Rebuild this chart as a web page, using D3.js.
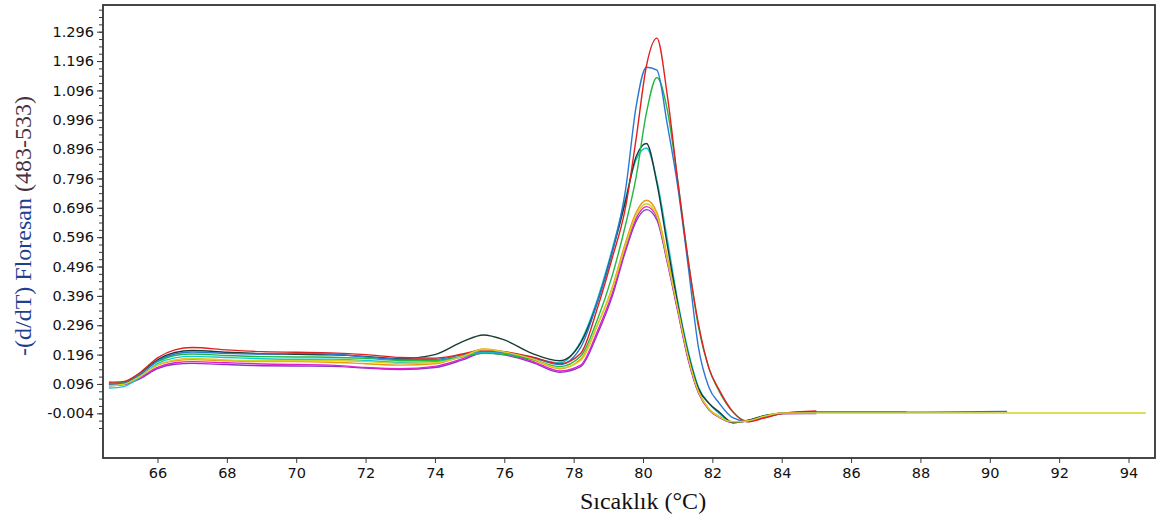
<!DOCTYPE html>
<html>
<head>
<meta charset="utf-8">
<script src="https://cdn.jsdelivr.net/npm/d3@7"></script>
<style>
  body { margin: 0; background: #fff; }
  svg { display: block; }
</style>
</head>
<body>
<script>
// chart data
const temps = [64.6, 65.0, 65.5, 66.0, 66.5, 67.0, 68.0, 69.0, 70.0, 71.0, 72.0, 73.0, 74.0, 74.8, 75.4, 76.0, 76.8, 77.6,
  78.2, 78.7, 79.1, 79.5, 79.8, 80.1, 80.4, 80.7, 81.0, 81.3, 81.6, 81.9, 82.2, 82.6, 83.0, 83.5, 84.0, 85.0, 87.6, 90.5, 94.5];

const purple = [0.090, 0.093, 0.114, 0.148, 0.163, 0.166, 0.162, 0.158, 0.157, 0.156, 0.150, 0.145, 0.152, 0.178, 0.202, 0.195, 0.170, 0.136,
  0.155, 0.27, 0.39, 0.55, 0.65, 0.69, 0.655, 0.51, 0.345, 0.18, 0.065, 0.008, -0.018, -0.036, -0.030, -0.016, -0.006, -0.005, null, null, null];
const magenta = [0.092, 0.095, 0.118, 0.152, 0.168, 0.172, 0.168, 0.164, 0.162, 0.160, 0.152, 0.148, 0.156, 0.182, 0.205, 0.198, 0.174, 0.140,
  0.16, 0.28, 0.40, 0.56, 0.66, 0.70, 0.665, 0.515, 0.35, 0.185, 0.068, 0.010, -0.017, -0.035, -0.030, -0.016, -0.006, null, null, null, null];
const orange = [0.098, 0.100, 0.125, 0.160, 0.175, 0.179, 0.175, 0.172, 0.172, 0.170, 0.165, 0.160, 0.165, 0.192, 0.215, 0.205, 0.180, 0.148,
  0.18, 0.30, 0.42, 0.58, 0.68, 0.722, 0.68, 0.53, 0.36, 0.19, 0.070, 0.010, -0.015, -0.033, -0.030, -0.015, -0.005, null, null, null, null];
const cyan = [0.082, 0.086, 0.120, 0.165, 0.185, 0.190, 0.186, 0.182, 0.180, 0.180, 0.176, 0.170, 0.172, 0.188, 0.204, 0.200, 0.186, 0.168,
  0.24, 0.39, 0.55, 0.73, 0.86, 0.90, 0.79, 0.59, 0.38, 0.21, 0.085, 0.030, -0.005, -0.035, -0.030, -0.012, -0.004, null, null, null, null];
const dark = [0.096, 0.100, 0.132, 0.178, 0.203, 0.210, 0.204, 0.199, 0.197, 0.195, 0.190, 0.182, 0.196, 0.240, 0.263, 0.246, 0.200, 0.175,
  0.235, 0.38, 0.54, 0.72, 0.87, 0.915, 0.78, 0.57, 0.37, 0.20, 0.080, 0.030, 0.000, -0.036, -0.028, -0.012, -0.004, null, null, null, null];
const green = [0.098, 0.100, 0.130, 0.172, 0.193, 0.198, 0.193, 0.189, 0.188, 0.187, 0.183, 0.176, 0.176, 0.190, 0.200, 0.196, 0.180, 0.155,
  0.19, 0.32, 0.46, 0.64, 0.80, 1.02, 1.14, 1.03, 0.79, 0.52, 0.29, 0.15, 0.070, 0.000, -0.030, -0.018, -0.003, 0.001, 0.001, null, null];
const blue = [0.094, 0.097, 0.128, 0.175, 0.198, 0.205, 0.200, 0.198, 0.200, 0.198, 0.188, 0.180, 0.180, 0.196, 0.207, 0.203, 0.186, 0.162,
  0.22, 0.38, 0.54, 0.76, 1.04, 1.175, 1.165, 0.98, 0.77, 0.50, 0.22, 0.085, 0.030, -0.020, -0.032, -0.016, -0.004, 0.000, 0.000, 0.002, null];
const red = [0.102, 0.104, 0.135, 0.185, 0.212, 0.220, 0.212, 0.206, 0.204, 0.202, 0.196, 0.186, 0.184, 0.198, 0.212, 0.206, 0.188, 0.165,
  0.20, 0.36, 0.52, 0.70, 0.93, 1.18, 1.274, 1.08, 0.79, 0.52, 0.30, 0.15, 0.075, 0.000, -0.033, -0.020, -0.005, 0.004, null, null, null];
const yellow = [0.090, 0.094, 0.122, 0.160, 0.178, 0.183, 0.178, 0.175, 0.175, 0.176, 0.172, 0.166, 0.168, 0.190, 0.214, 0.205, 0.182, 0.150,
  0.175, 0.30, 0.415, 0.57, 0.67, 0.71, 0.67, 0.52, 0.355, 0.19, 0.070, 0.012, -0.016, -0.033, -0.030, -0.014, -0.003, -0.003, -0.003, -0.003, -0.003];

const series = [
  {name: 'purple', values: purple, color: '#8a35c8'},
  {name: 'magenta', values: magenta, color: '#e020d0'},
  {name: 'orange', values: orange, color: '#e89a10'},
  {name: 'cyan', values: cyan, color: '#10c8d8'},
  {name: 'dark', values: dark, color: '#1d3b35'},
  {name: 'green', values: green, color: '#20b840'},
  {name: 'blue', values: blue, color: '#2878d0'},
  {name: 'red', values: red, color: '#e02020'},
  {name: 'yellow', values: yellow, color: '#d8d020'}
];

const xTicks = [66, 68, 70, 72, 74, 76, 78, 80, 82, 84, 86, 88, 90, 92, 94];
const yTicks = [-0.004, 0.096, 0.196, 0.296, 0.396, 0.496, 0.596, 0.696, 0.796, 0.896, 0.996, 1.096, 1.196, 1.296];
const yTickLabels = ['-0.004', '0.096', '0.196', '0.296', '0.396', '0.496', '0.596', '0.696', '0.796', '0.896', '0.996', '1.096', '1.196', '1.296'];

// layout
const WIDTH = 1161;
const HEIGHT = 522;
const FRAME = {left: 103, top: 5, right: 1155, bottom: 458};

const svg = d3.select('body')
  .append('svg')
  .attr('width', WIDTH)
  .attr('height', HEIGHT);

const xScale = d3.scaleLinear().domain([66, 94]).range([157.5, 1128.5]);
const yScale = d3.scaleLinear().domain([-0.004, 1.296]).range([413.3, 31.7]);

svg.append('clipPath').attr('id', 'plot-clip')
  .append('rect')
  .attr('x', FRAME.left).attr('y', FRAME.top)
  .attr('width', FRAME.right - FRAME.left).attr('height', FRAME.bottom - FRAME.top);

// curves
const line = d3.line()
  .defined(d => d.v !== null)
  .x(d => xScale(d.t))
  .y(d => yScale(d.v))
  .curve(d3.curveMonotoneX);

const curves = svg.append('g').attr('clip-path', 'url(#plot-clip)');
curves.selectAll('path')
  .data(series)
  .enter().append('path')
  .attr('fill', 'none')
  .attr('stroke', d => d.color)
  .attr('stroke-width', 1.4)
  .attr('d', d => line(temps.map((t, i) => ({t: t, v: d.values[i]}))));

// frame
svg.append('rect')
  .attr('x', FRAME.left).attr('y', FRAME.top)
  .attr('width', FRAME.right - FRAME.left).attr('height', FRAME.bottom - FRAME.top)
  .attr('fill', 'none')
  .attr('stroke', '#333')
  .attr('stroke-width', 1.8);

// y axis: minor ticks every 0.025, labelled ticks every 0.1
const minorTicks = d3.range(-0.054, 1.38, 0.025);
const yMinor = d3.axisLeft(yScale).tickValues(minorTicks).tickSize(4).tickFormat('');
svg.append('g')
  .attr('class', 'y-minor')
  .attr('transform', 'translate(' + FRAME.left + ',0)')
  .call(yMinor);

const yAxis = d3.axisLeft(yScale)
  .tickValues(yTicks)
  .tickSize(6)
  .tickPadding(3)
  .tickFormat((d, i) => yTickLabels[i]);
svg.append('g')
  .attr('class', 'y-axis')
  .attr('transform', 'translate(' + FRAME.left + ',0)')
  .call(yAxis);

const xAxis = d3.axisBottom(xScale)
  .tickValues(xTicks)
  .tickSize(5)
  .tickPadding(5)
  .tickFormat(d3.format('d'));
svg.append('g')
  .attr('class', 'x-axis')
  .attr('transform', 'translate(0,' + FRAME.bottom + ')')
  .call(xAxis);

svg.selectAll('.domain').remove();
svg.selectAll('.y-axis line, .y-minor line, .x-axis line')
  .attr('stroke', '#3a3a3a')
  .attr('stroke-width', 1);
svg.selectAll('.y-axis text, .x-axis text')
  .attr('fill', '#111')
  .style('font-family', '"DejaVu Sans", sans-serif')
  .style('font-size', '14.5px');

// axis titles
svg.append('text')
  .attr('x', 643)
  .attr('y', 509)
  .attr('text-anchor', 'middle')
  .style('font-family', '"Liberation Serif", "Times New Roman", serif')
  .style('font-size', '24px')
  .attr('fill', '#111')
  .text('Sıcaklık (°C)');

const yTitle = svg.append('text')
  .attr('transform', 'translate(31,226) rotate(-90)')
  .attr('text-anchor', 'middle')
  .style('font-family', '"Liberation Serif", "Times New Roman", serif')
  .style('font-size', '24px');
yTitle.append('tspan').attr('fill', '#1f3f8f').text('-(d/dT) Floresan ');
yTitle.append('tspan').attr('fill', '#4a3040').text('(483-533)');
</script>
</body>
</html>
